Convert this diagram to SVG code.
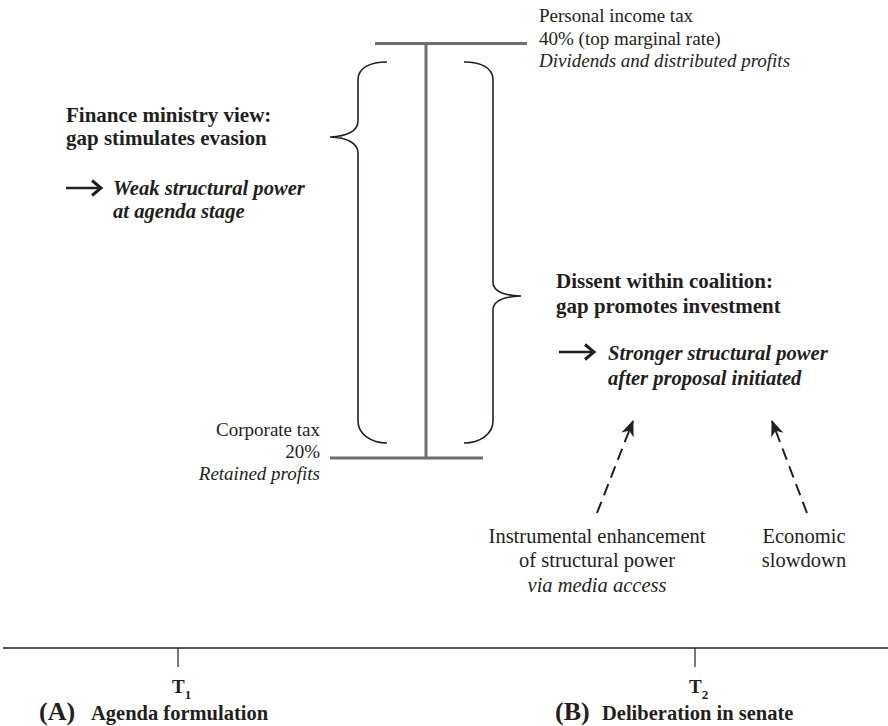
<svg xmlns="http://www.w3.org/2000/svg" width="888" height="726" viewBox="0 0 888 726">
<style>
  text { font-family: "Liberation Serif", "Times New Roman", serif; fill: #231f20; }
  .lbl { font-size: 19px; }
  .lbl2 { font-size: 20.5px; }
  .it { font-style: italic; }
  .hd { font-size: 21px; font-weight: bold; }
  .bi { font-size: 20.6px; font-weight: bold; font-style: italic; }
  .tm { font-weight: bold; }
  .rate { stroke: #6d6e70; stroke-width: 3; fill: none; }
  .brace { stroke: #231f20; stroke-width: 1.6; fill: none; }
  .dash { stroke: #231f20; stroke-width: 2; stroke-dasharray: 12 7; fill: none; }
  .sol { stroke: #231f20; fill: none; }
</style>
<defs>
  <marker id="head" markerUnits="userSpaceOnUse" markerWidth="20" markerHeight="16" viewBox="-16 -8 18 16" refX="0" refY="0" orient="auto">
    <path d="M1,0 L-15,-6.5 L-10.5,0 L-15,6.5 Z" fill="#231f20"/>
  </marker>
</defs>
<rect width="888" height="726" fill="#ffffff"/>

<g id="scale">
  <line class="rate" x1="375" y1="43.5" x2="527" y2="43.5"/>
  <line class="rate" x1="426" y1="43.5" x2="426" y2="458"/>
  <line class="rate" x1="330" y1="458" x2="483" y2="458"/>
</g>

<g id="top-rate">
  <text class="lbl" x="539" y="22">Personal income tax</text>
  <text class="lbl" x="539" y="44.5">40% (top marginal rate)</text>
  <text class="lbl it" x="539" y="67">Dividends and distributed profits</text>
</g>

<g id="bottom-rate">
  <text class="lbl" x="320" y="436" text-anchor="end">Corporate tax</text>
  <text class="lbl" x="320" y="458" text-anchor="end">20%</text>
  <text class="lbl it" x="320" y="480" text-anchor="end">Retained profits</text>
</g>

<g id="left-brace">
  <path class="brace" d="M387,62 C371,62 358,67 358,80 L358,121 C358,131 347,136.5 330,137 C347,137.5 358,143 358,153 L358,421 C358,434 371,443 387,443"/>
</g>

<g id="right-brace">
  <path class="brace" d="M464,62 C480,62 493,67 493,80 L493,282 C493,291 504,295.5 521,296 C504,296.5 493,301 493,310 L493,421 C493,434 480,443 464,443"/>
</g>

<g id="finance-view">
  <text class="hd" x="66" y="122">Finance ministry view:</text>
  <text class="hd" x="66" y="145">gap stimulates evasion</text>
  <path class="sol" stroke-width="2.6" d="M66,188 L100,188"/>
  <path class="sol" stroke-width="3" d="M92,180.5 L101,188 L92,195.5"/>
  <text class="bi" x="113" y="195">Weak structural power</text>
  <text class="bi" x="113" y="218">at agenda stage</text>
</g>

<g id="dissent">
  <text class="hd" x="556" y="288">Dissent within coalition:</text>
  <text class="hd" x="556" y="313">gap promotes investment</text>
  <path class="sol" stroke-width="2.6" d="M559,352 L593,352"/>
  <path class="sol" stroke-width="3" d="M585,344.5 L594,352 L585,359.5"/>
  <text class="bi" x="608" y="360">Stronger structural power</text>
  <text class="bi" x="608" y="385">after proposal initiated</text>
</g>

<g id="instrumental">
  <text class="lbl2" x="597" y="543" text-anchor="middle">Instrumental enhancement</text>
  <text class="lbl2" x="597" y="567" text-anchor="middle">of structural power</text>
  <text class="lbl2 it" x="597" y="592" text-anchor="middle">via media access</text>
</g>

<g id="slowdown">
  <text class="lbl2" x="804" y="543" text-anchor="middle">Economic</text>
  <text class="lbl2" x="804" y="567" text-anchor="middle">slowdown</text>
</g>

<g id="connectors">
  <line class="dash" x1="597" y1="513" x2="633" y2="421" marker-end="url(#head)"/>
  <line class="dash" x1="807" y1="513" x2="772" y2="421" marker-end="url(#head)"/>
</g>

<g id="timeline">
  <line class="sol" stroke-width="1.6" x1="3" y1="648" x2="888" y2="648"/>
  <line class="sol" stroke-width="1.2" x1="178" y1="648" x2="178" y2="667"/>
  <line class="sol" stroke-width="1.2" x1="695" y1="648" x2="695" y2="667"/>
</g>

<g id="stage-a">
  <text class="tm" x="172" y="693" font-size="19">T<tspan font-size="13" dy="6">1</tspan></text>
  <text class="tm" x="39" y="720" font-size="26">(A)</text>
  <text class="tm" x="91" y="720" font-size="20.5">Agenda formulation</text>
</g>

<g id="stage-b">
  <text class="tm" x="689" y="693" font-size="19">T<tspan font-size="13" dy="6">2</tspan></text>
  <text class="tm" x="555" y="720" font-size="26">(B)</text>
  <text class="tm" x="602" y="720" font-size="20.5">Deliberation in senate</text>
</g>
</svg>
